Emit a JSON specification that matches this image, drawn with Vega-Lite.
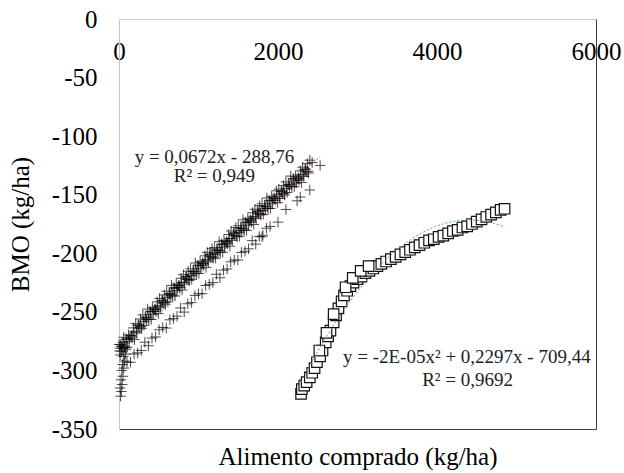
{
  "$schema": "https://vega.github.io/schema/vega-lite/v6.json",
  "width": 477,
  "height": 410,
  "autosize": "none",
  "padding": {"left": 119, "top": 19, "right": 28, "bottom": 44},
  "background": "white",
  "config": {
    "view": {"stroke": null},
    "axis": {"grid": false, "ticks": false, "tickSize": 0, "labelFont": "Liberation Serif", "titleFont": "Liberation Serif"},
    "style": {"guide-label": {"font": "Liberation Serif"}, "guide-title": {"font": "Liberation Serif"}}
  },
  "datasets": {
    "crosses": [
      {"x": 20, "y": -322}, {"x": 30, "y": -318}, {"x": 15, "y": -315}, {"x": 40, "y": -312}, {"x": 25, "y": -308}, {"x": 50, "y": -305}, {"x": 35, "y": -300}, {"x": 60, "y": -298}, {"x": 45, "y": -295}, {"x": 70, "y": -292}, {"x": 55, "y": -288}, {"x": 80, "y": -286}, {"x": 30, "y": -284}, {"x": 10, "y": -281}, {"x": 20, "y": -278}, {"x": 90, "y": -282}, {"x": 65, "y": -280}, {"x": 50, "y": -276},
      {"x": 0, "y": -277.8}, {"x": 30, "y": -279.2}, {"x": 60, "y": -271.7}, {"x": 90, "y": -273.2}, {"x": 120, "y": -269.7}, {"x": 150, "y": -270.2}, {"x": 180, "y": -263.7}, {"x": 210, "y": -260.1}, {"x": 240, "y": -261.6}, {"x": 270, "y": -256.1},
      {"x": 300, "y": -252.6}, {"x": 330, "y": -254.6}, {"x": 360, "y": -247.6}, {"x": 390, "y": -249.5}, {"x": 420, "y": -246.5}, {"x": 450, "y": -247.5}, {"x": 480, "y": -241.5}, {"x": 510, "y": -238.5}, {"x": 540, "y": -240.5}, {"x": 570, "y": -235.5},
      {"x": 600, "y": -232.4}, {"x": 630, "y": -234.4}, {"x": 660, "y": -227.4}, {"x": 690, "y": -229.4}, {"x": 720, "y": -226.4}, {"x": 750, "y": -227.4}, {"x": 780, "y": -221.3}, {"x": 810, "y": -218.3}, {"x": 840, "y": -220.3}, {"x": 870, "y": -215.3},
      {"x": 900, "y": -213.3}, {"x": 930, "y": -215.3}, {"x": 960, "y": -208.3}, {"x": 990, "y": -210.2}, {"x": 1020, "y": -207.2}, {"x": 1050, "y": -208.2}, {"x": 1080, "y": -202.2}, {"x": 1110, "y": -199.2}, {"x": 1140, "y": -201.2}, {"x": 1170, "y": -196.1},
      {"x": 1200, "y": -195.1}, {"x": 1230, "y": -197.1}, {"x": 1260, "y": -190.1}, {"x": 1290, "y": -192.1}, {"x": 1320, "y": -189.1}, {"x": 1350, "y": -190.0}, {"x": 1380, "y": -184.0}, {"x": 1410, "y": -181.0}, {"x": 1440, "y": -183.0}, {"x": 1470, "y": -178.0},
      {"x": 1500, "y": -176.5}, {"x": 1530, "y": -178.5}, {"x": 1560, "y": -171.4}, {"x": 1590, "y": -173.4}, {"x": 1620, "y": -170.4}, {"x": 1650, "y": -171.4}, {"x": 1680, "y": -165.4}, {"x": 1710, "y": -162.4}, {"x": 1740, "y": -164.3}, {"x": 1770, "y": -159.3},
      {"x": 1800, "y": -157.8}, {"x": 1830, "y": -159.8}, {"x": 1860, "y": -152.8}, {"x": 1890, "y": -154.8}, {"x": 1920, "y": -151.7}, {"x": 1950, "y": -152.7}, {"x": 1980, "y": -146.7}, {"x": 2010, "y": -145.2}, {"x": 2040, "y": -147.2}, {"x": 2070, "y": -142.2},
      {"x": 2100, "y": -139.1}, {"x": 2130, "y": -141.1}, {"x": 2160, "y": -134.1}, {"x": 2190, "y": -136.1}, {"x": 2220, "y": -134.6}, {"x": 2250, "y": -135.6}, {"x": 2280, "y": -129.6}, {"x": 2310, "y": -126.5}, {"x": 2340, "y": -128.5}, {"x": 2370, "y": -123.5},
      {"x": 2400, "y": -120.5}, {"x": 2430, "y": -122.5},
      {"x": 15, "y": -286.8}, {"x": 45, "y": -281.2}, {"x": 75, "y": -280.7}, {"x": 105, "y": -280.2}, {"x": 135, "y": -272.7}, {"x": 165, "y": -272.2}, {"x": 195, "y": -273.7}, {"x": 225, "y": -268.1}, {"x": 255, "y": -263.6}, {"x": 285, "y": -264.1},
      {"x": 315, "y": -261.6}, {"x": 345, "y": -256.6}, {"x": 375, "y": -256.6}, {"x": 405, "y": -256.5}, {"x": 435, "y": -249.5}, {"x": 465, "y": -249.5}, {"x": 495, "y": -251.5}, {"x": 525, "y": -246.5}, {"x": 555, "y": -242.5}, {"x": 585, "y": -243.5},
      {"x": 615, "y": -241.4}, {"x": 645, "y": -236.4}, {"x": 675, "y": -236.4}, {"x": 705, "y": -236.4}, {"x": 735, "y": -229.4}, {"x": 765, "y": -229.4}, {"x": 795, "y": -231.3}, {"x": 825, "y": -226.3}, {"x": 855, "y": -222.3}, {"x": 885, "y": -223.3},
      {"x": 915, "y": -222.3}, {"x": 945, "y": -217.3}, {"x": 975, "y": -217.3}, {"x": 1005, "y": -217.2}, {"x": 1035, "y": -210.2}, {"x": 1065, "y": -210.2}, {"x": 1095, "y": -212.2}, {"x": 1125, "y": -207.2}, {"x": 1155, "y": -203.2}, {"x": 1185, "y": -204.1},
      {"x": 1215, "y": -204.1}, {"x": 1245, "y": -199.1}, {"x": 1275, "y": -199.1}, {"x": 1305, "y": -199.1}, {"x": 1335, "y": -192.1}, {"x": 1365, "y": -192.0}, {"x": 1395, "y": -194.0}, {"x": 1425, "y": -189.0}, {"x": 1455, "y": -185.0}, {"x": 1485, "y": -186.0},
      {"x": 1515, "y": -185.5}, {"x": 1545, "y": -180.5}, {"x": 1575, "y": -180.4}, {"x": 1605, "y": -180.4}, {"x": 1635, "y": -173.4}, {"x": 1665, "y": -173.4}, {"x": 1695, "y": -175.4}, {"x": 1725, "y": -170.3}, {"x": 1755, "y": -166.3}, {"x": 1785, "y": -167.3},
      {"x": 1815, "y": -166.8}, {"x": 1845, "y": -161.8}, {"x": 1875, "y": -161.8}, {"x": 1905, "y": -161.7}, {"x": 1935, "y": -154.7}, {"x": 1965, "y": -154.7}, {"x": 1995, "y": -156.7}, {"x": 2025, "y": -153.2}, {"x": 2055, "y": -149.2}, {"x": 2085, "y": -150.2},
      {"x": 2115, "y": -148.1}, {"x": 2145, "y": -143.1}, {"x": 2175, "y": -143.1}, {"x": 2205, "y": -143.1}, {"x": 2235, "y": -137.6}, {"x": 2265, "y": -137.6}, {"x": 2295, "y": -139.6}, {"x": 2325, "y": -134.5}, {"x": 2355, "y": -130.5}, {"x": 2385, "y": -131.5},
      {"x": 8, "y": -283.3}, {"x": 38, "y": -279.7}, {"x": 68, "y": -279.2}, {"x": 98, "y": -273.7}, {"x": 128, "y": -275.2}, {"x": 158, "y": -270.7}, {"x": 188, "y": -267.2}, {"x": 218, "y": -266.6}, {"x": 248, "y": -261.1}, {"x": 278, "y": -262.6},
      {"x": 308, "y": -258.1}, {"x": 338, "y": -255.1}, {"x": 368, "y": -255.1}, {"x": 398, "y": -250.0}, {"x": 428, "y": -252.0}, {"x": 458, "y": -248.0}, {"x": 488, "y": -245.0}, {"x": 518, "y": -245.0}, {"x": 548, "y": -240.0}, {"x": 578, "y": -242.0},
      {"x": 608, "y": -237.9}, {"x": 638, "y": -234.9}, {"x": 668, "y": -234.9}, {"x": 698, "y": -229.9}, {"x": 728, "y": -231.9}, {"x": 758, "y": -227.9}, {"x": 788, "y": -224.8}, {"x": 818, "y": -224.8}, {"x": 848, "y": -219.8}, {"x": 878, "y": -221.8},
      {"x": 908, "y": -218.8}, {"x": 938, "y": -215.8}, {"x": 968, "y": -215.8}, {"x": 998, "y": -210.7}, {"x": 1028, "y": -212.7}, {"x": 1058, "y": -208.7}, {"x": 1088, "y": -205.7}, {"x": 1118, "y": -205.7}, {"x": 1148, "y": -200.7}, {"x": 1178, "y": -202.6},
      {"x": 1208, "y": -200.6}, {"x": 1238, "y": -197.6}, {"x": 1268, "y": -197.6}, {"x": 1298, "y": -192.6}, {"x": 1328, "y": -194.6}, {"x": 1358, "y": -190.5}, {"x": 1388, "y": -187.5}, {"x": 1418, "y": -187.5}, {"x": 1448, "y": -182.5}, {"x": 1478, "y": -184.5},
      {"x": 1508, "y": -182.0}, {"x": 1538, "y": -179.0}, {"x": 1568, "y": -178.9}, {"x": 1598, "y": -173.9}, {"x": 1628, "y": -175.9}, {"x": 1658, "y": -171.9}, {"x": 1688, "y": -168.9}, {"x": 1718, "y": -168.9}, {"x": 1748, "y": -163.8}, {"x": 1778, "y": -165.8},
      {"x": 1808, "y": -163.3}, {"x": 1838, "y": -160.3}, {"x": 1868, "y": -160.3}, {"x": 1898, "y": -155.3}, {"x": 1928, "y": -157.2}, {"x": 1958, "y": -153.2}, {"x": 1988, "y": -150.2}, {"x": 2018, "y": -151.7}, {"x": 2048, "y": -146.7}, {"x": 2078, "y": -148.7},
      {"x": 2108, "y": -144.6}, {"x": 2138, "y": -141.6}, {"x": 2168, "y": -141.6}, {"x": 2198, "y": -136.6}, {"x": 2228, "y": -140.1}, {"x": 2258, "y": -136.1}, {"x": 2288, "y": -133.1}, {"x": 2318, "y": -133.0}, {"x": 2348, "y": -128.0}, {"x": 2378, "y": -130.0},
      {"x": 100, "y": -293.0}, {"x": 145, "y": -293.0}, {"x": 190, "y": -286.0}, {"x": 235, "y": -285.0}, {"x": 280, "y": -283.0}, {"x": 325, "y": -275.9}, {"x": 370, "y": -278.9}, {"x": 415, "y": -272.4}, {"x": 460, "y": -271.4}, {"x": 505, "y": -265.3},
      {"x": 550, "y": -263.3}, {"x": 595, "y": -263.8}, {"x": 640, "y": -256.8}, {"x": 685, "y": -255.7}, {"x": 730, "y": -253.7}, {"x": 775, "y": -246.7}, {"x": 820, "y": -250.2}, {"x": 865, "y": -243.1}, {"x": 910, "y": -242.1}, {"x": 955, "y": -236.1},
      {"x": 1000, "y": -234.6}, {"x": 1045, "y": -234.5}, {"x": 1090, "y": -227.5}, {"x": 1135, "y": -226.5}, {"x": 1180, "y": -225.0}, {"x": 1225, "y": -217.9}, {"x": 1270, "y": -220.9}, {"x": 1315, "y": -214.4}, {"x": 1360, "y": -213.4}, {"x": 1405, "y": -207.3},
      {"x": 1450, "y": -205.8}, {"x": 1495, "y": -205.8}, {"x": 1540, "y": -199.3}, {"x": 1585, "y": -198.3}, {"x": 1630, "y": -196.2}, {"x": 1675, "y": -189.2}, {"x": 1720, "y": -192.2}, {"x": 1765, "y": -185.7}, {"x": 1810, "y": -184.6}, {"x": 1855, "y": -178.6},
      {"x": 1900, "y": -177.1}, {"x": 2000, "y": -173.4}, {"x": 2100, "y": -162.6}, {"x": 2240, "y": -155.2},
      {"x": 1800, "y": -186}, {"x": 2400, "y": -146}, {"x": 2530, "y": -125}, {"x": 2280, "y": -152}
    ],
    "squares": [
      {"x": 2290, "y": -320}, {"x": 2300, "y": -316}, {"x": 2330, "y": -313}, {"x": 2360, "y": -310}, {"x": 2400, "y": -306}, {"x": 2430, "y": -302}, {"x": 2460, "y": -298}, {"x": 2490, "y": -293}, {"x": 2530, "y": -288}, {"x": 2560, "y": -283},
      {"x": 2600, "y": -276}, {"x": 2630, "y": -271}, {"x": 2660, "y": -266}, {"x": 2700, "y": -259}, {"x": 2730, "y": -253}, {"x": 2760, "y": -247}, {"x": 2800, "y": -241}, {"x": 2830, "y": -236}, {"x": 2870, "y": -232}, {"x": 2910, "y": -228},
      {"x": 2950, "y": -225}, {"x": 3000, "y": -222}, {"x": 3050, "y": -220}, {"x": 3100, "y": -217}, {"x": 3150, "y": -215}, {"x": 3200, "y": -213}, {"x": 3250, "y": -211}, {"x": 3300, "y": -209}, {"x": 3360, "y": -207}, {"x": 3420, "y": -205},
      {"x": 3480, "y": -203}, {"x": 3540, "y": -201}, {"x": 3600, "y": -199}, {"x": 3660, "y": -197}, {"x": 3720, "y": -195}, {"x": 3780, "y": -193}, {"x": 3840, "y": -191}, {"x": 3900, "y": -189}, {"x": 3960, "y": -188}, {"x": 4020, "y": -186},
      {"x": 4080, "y": -185}, {"x": 4140, "y": -183}, {"x": 4200, "y": -181}, {"x": 4260, "y": -180}, {"x": 4320, "y": -178}, {"x": 4380, "y": -177}, {"x": 4440, "y": -175}, {"x": 4500, "y": -173}, {"x": 4560, "y": -171}, {"x": 4620, "y": -169},
      {"x": 4680, "y": -167}, {"x": 4740, "y": -165}, {"x": 4800, "y": -163}, {"x": 4850, "y": -162},
      {"x": 2520, "y": -283}, {"x": 2610, "y": -268}, {"x": 2700, "y": -252}, {"x": 2850, "y": -229}, {"x": 2940, "y": -221}, {"x": 3040, "y": -215}, {"x": 3140, "y": -211}
    ],
    "labels": [
      {"x": 1200, "y": -123, "text": "y = 0,0672x - 288,76"},
      {"x": 1200, "y": -139.2, "text": "R² = 0,949"},
      {"x": 4375, "y": -293.8, "text": "y = -2E-05x² + 0,2297x - 709,44"},
      {"x": 4385, "y": -313.4, "text": "R² = 0,9692"}
    ]
  },
  "layer": [
    {
      "data": {"name": "crosses"},
      "mark": {"type": "point", "shape": "M-1,0L1,0M0,-1L0,1", "filled": false, "stroke": "#000", "strokeWidth": 1, "size": 110, "opacity": 0.7},
      "encoding": {
        "x": {"field": "x", "type": "quantitative", "scale": {"domain": [0, 6000], "nice": false, "zero": false},
          "axis": {"orient": "top", "values": [0, 2000, 4000, 6000], "labelExpr": "'' + datum.value", "labelFont": "Liberation Serif", "labelFontSize": 25, "labelColor": "#000", "labelPadding": -40, "labelBaseline": "alphabetic", "labelOverlap": false, "labelFlush": false, "domainColor": "#c8c8c8", "ticks": false, "grid": false, "title": null}},
        "y": {"field": "y", "type": "quantitative", "scale": {"domain": [-350, 0], "nice": false, "zero": false},
          "axis": {"orient": "left", "values": [-350, -300, -250, -200, -150, -100, -50, 0], "labelFont": "Liberation Serif", "labelFontSize": 25, "labelColor": "#000", "labelPadding": 22, "labelOverlap": false, "labelFlush": false, "labelExpr": "datum.value < 0 ? '-' + (-datum.value) : '' + datum.value", "domainColor": "#c8c8c8", "ticks": false, "grid": false, "title": "BMO (kg/ha)", "titleFont": "Liberation Serif", "titleFontSize": 25, "titleFontWeight": "normal", "titleColor": "#000", "titlePadding": 18}}
      }
    },
    {
      "data": {"name": "squares"},
      "mark": {"type": "point", "shape": "square", "filled": false, "fill": "white", "fillOpacity": 1, "stroke": "#111", "strokeWidth": 1.2, "size": 110},
      "encoding": {
        "x": {"field": "x", "type": "quantitative", "scale": {"domain": [0, 6000], "nice": false, "zero": false},
          "axis": {"orient": "bottom", "labels": false, "ticks": false, "grid": false, "domainColor": "#404040", "title": "Alimento comprado (kg/ha)", "titleFont": "Liberation Serif", "titleFontSize": 25, "titleFontWeight": "normal", "titleColor": "#000", "titlePadding": 15}},
        "y": {"field": "y", "type": "quantitative", "scale": {"domain": [-350, 0], "nice": false, "zero": false},
          "axis": {"orient": "right", "labels": false, "ticks": false, "grid": false, "domainColor": "#404040", "title": null}}
      }
    },
    {
      "data": {"name": "crosses"},
      "transform": [{"regression": "y", "on": "x", "method": "linear"}],
      "mark": {"type": "line", "color": "#c0504d", "strokeWidth": 1, "strokeDash": [2, 2]},
      "encoding": {
        "x": {"field": "x", "type": "quantitative", "scale": {"domain": [0, 6000], "nice": false, "zero": false}, "axis": null},
        "y": {"field": "y", "type": "quantitative", "scale": {"domain": [-350, 0], "nice": false, "zero": false}, "axis": null}
      }
    },
    {
      "data": {"name": "squares"},
      "transform": [{"regression": "y", "on": "x", "method": "poly", "order": 2}],
      "mark": {"type": "line", "color": "#5b8fd6", "strokeWidth": 1, "strokeDash": [2, 2]},
      "encoding": {
        "x": {"field": "x", "type": "quantitative", "scale": {"domain": [0, 6000], "nice": false, "zero": false}, "axis": null},
        "y": {"field": "y", "type": "quantitative", "scale": {"domain": [-350, 0], "nice": false, "zero": false}, "axis": null}
      }
    },
    {
      "data": {"name": "labels"},
      "mark": {"type": "text", "font": "Liberation Serif", "fontSize": 19, "color": "#222", "align": "center", "baseline": "alphabetic"},
      "encoding": {
        "x": {"field": "x", "type": "quantitative", "scale": {"domain": [0, 6000], "nice": false, "zero": false}, "axis": null},
        "y": {"field": "y", "type": "quantitative", "scale": {"domain": [-350, 0], "nice": false, "zero": false}, "axis": null},
        "text": {"field": "text", "type": "nominal"}
      }
    }
  ],
  "resolve": {"axis": {"x": "independent", "y": "independent"}}
}
